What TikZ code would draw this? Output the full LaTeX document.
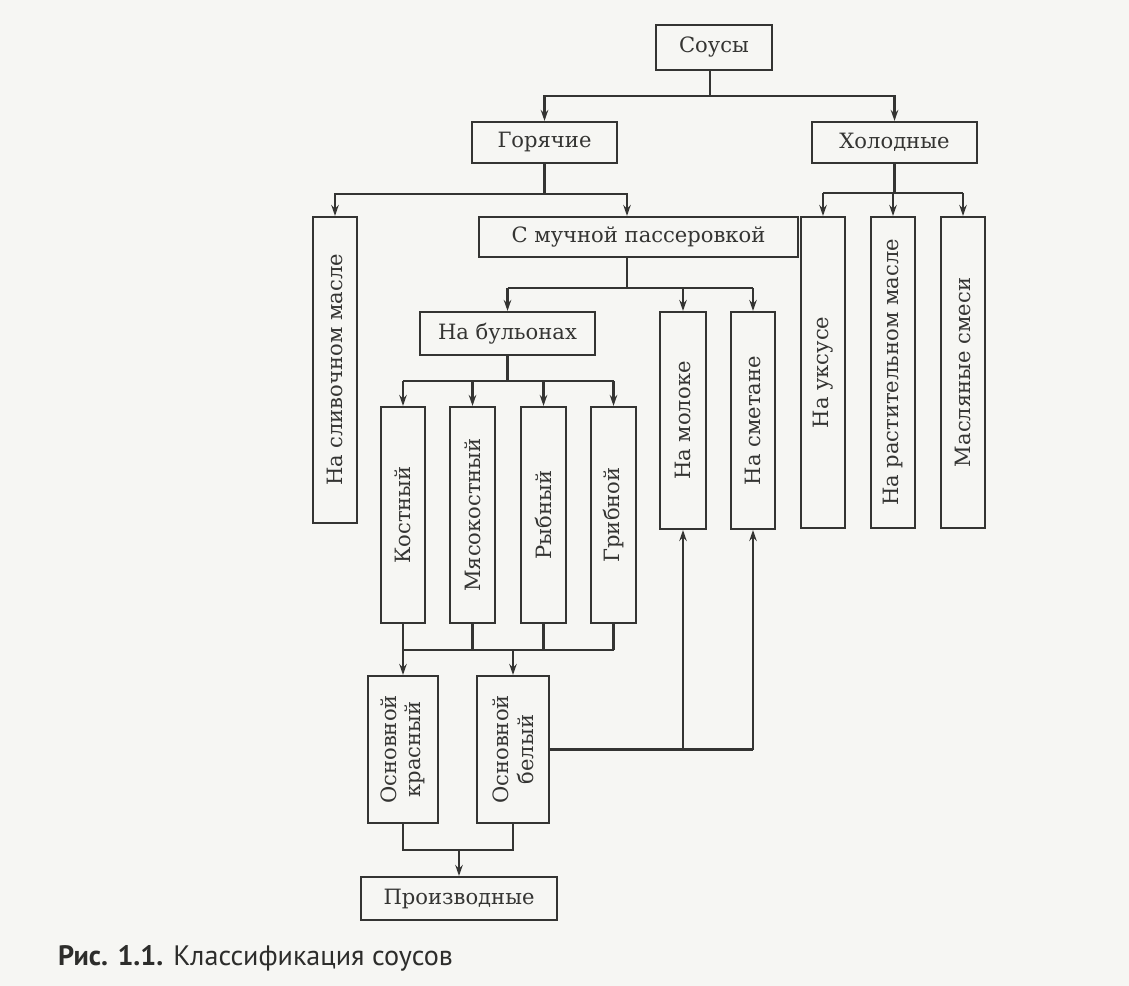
\documentclass[tikz,border=0pt]{standalone}
\usepackage{fontspec}
\setmainfont{DejaVu Serif}
\newfontfamily\capfont{PT Sans}
\usepackage{tikz}
\usetikzlibrary{arrows.meta,positioning,calc}
\definecolor{paper}{RGB}{246,246,243}
\definecolor{ink}{RGB}{52,52,50}
\definecolor{captxt}{RGB}{45,45,43}
\tikzset{
  hbox/.style={draw=ink, line width=1.2pt, inner sep=0pt, text=ink,
               font=\fontsize{12}{14}\selectfont, align=center},
  vbox/.style={hbox, rotate=90},
  ln/.style={draw=ink, line width=1.2pt},
  arr/.style={ln, -{Stealth[length=2.2mm,width=1.5mm]}},
}

\begin{document}
\begin{tikzpicture}[x=0.2mm, y=-0.2mm]
  \fill[paper] (0,0) rectangle (1129,986);
  \useasboundingbox (0,0) rectangle (1129,986);

  \node[hbox, minimum width=23.2mm, minimum height=9mm] (sous) at (714,47.5) {Соусы};
  \node[hbox, minimum width=29mm, minimum height=8.2mm] (hot) at (544.5,142.5) {Горячие};
  \node[hbox, minimum width=33mm, minimum height=8.2mm] (cold) at (894.5,142.5) {Холодные};

  \node[vbox, minimum width=61.2mm, minimum height=8.8mm] (butter) at (335,370) {На сливочном масле};
  \node[hbox, minimum width=63.8mm, minimum height=8mm] (flour) at (638.5,237) {С мучной пассеровкой};
  \node[hbox, minimum width=35mm, minimum height=8.6mm] (broth) at (507.5,333.5) {На бульонах};
  \node[vbox, minimum width=43.4mm, minimum height=9.2mm] (milk) at (683,420.5) {На молоке};
  \node[vbox, minimum width=43.4mm, minimum height=8.8mm] (sour) at (753,420.5) {На сметане};

  \node[vbox, minimum width=43.2mm, minimum height=8.8mm] (bone) at (403,515) {Костный};
  \node[vbox, minimum width=43.2mm, minimum height=9mm] (meatbone) at (472.5,515) {Мясокостный};
  \node[vbox, minimum width=43.2mm, minimum height=9mm] (fish) at (543.5,515) {Рыбный};
  \node[vbox, minimum width=43.2mm, minimum height=9mm] (mush) at (613.5,515) {Грибной};

  \node[vbox, minimum width=29.4mm, minimum height=14mm] (red) at (403,749.5) {Основной\\красный};
  \node[vbox, minimum width=29.4mm, minimum height=14.4mm] (white) at (513,749.5) {Основной\\белый};
  \node[hbox, minimum width=39.2mm, minimum height=8.6mm] (deriv) at (459,898.5) {Производные};

  \node[vbox, minimum width=62.2mm, minimum height=8.8mm] (vinegar) at (823,372.5) {На уксусе};
  \node[vbox, minimum width=62.2mm, minimum height=8.8mm] (vegoil) at (893,372.5) {На растительном масле};
  \node[vbox, minimum width=62.2mm, minimum height=8.8mm] (mixes) at (963,372.5) {Масляные смеси};

  \node[anchor=base west, text=captxt, font=\capfont\fontsize{16}{18}\selectfont] (cap) at (52,965)
    {\textbf{Рис. 1.1.} Классификация соусов};

  \draw[ln] ([xshift=-0.8mm]sous.south) -- ++(0,25) coordinate (sj);
  \draw[arr] (sj) -| (hot);
  \draw[arr] (sj) -| (cold);

  \draw[ln] (hot.south) -- ++(0,30) coordinate (hj);
  \draw[arr] (hj) -| (butter);
  \draw[arr] (hj) -| ([xshift=-2.3mm]flour.north);

  \draw[ln] ([xshift=-2.3mm]flour.south) -- ++(0,30) coordinate (fj);
  \draw[ln] (fj -| broth) -- (fj -| sour);
  \foreach \b in {broth,milk,sour}
    \draw[arr] (fj -| \b) -- (\b);

  \draw[ln] (broth.south) -- ++(0,25) coordinate (bj);
  \draw[ln] (bj -| bone) -- (bj -| mush);
  \foreach \b in {bone,meatbone,fish,mush}
    \draw[arr] (bj -| \b) -- (\b);

  \draw[ln] (bone.west) -- ++(0,26) coordinate (kj) -- (kj -| mush);
  \foreach \b in {meatbone,fish,mush}
    \draw[ln] (\b.west) -- (kj -| \b);
  \draw[arr] (kj) -- (red);
  \draw[arr] (kj -| white) -- (white);

  \draw[ln] (white.south) -- (white.south -| sour);
  \draw[arr] (white.south -| milk) -- (milk);
  \draw[arr] (white.south -| sour) -- (sour);

  \draw[ln] (red.west) -- ++(0,26) coordinate (rj) -- (rj -| white) -- (white.west);
  \draw[arr] (rj -| deriv) -- (deriv);

  \draw[ln] (cold.south) -- ++(0,29) coordinate (cj);
  \draw[ln] (cj -| vinegar) -- (cj -| mixes);
  \foreach \c in {vinegar,vegoil,mixes}
    \draw[arr] (cj -| \c) -- (\c);
\end{tikzpicture}
\end{document}
